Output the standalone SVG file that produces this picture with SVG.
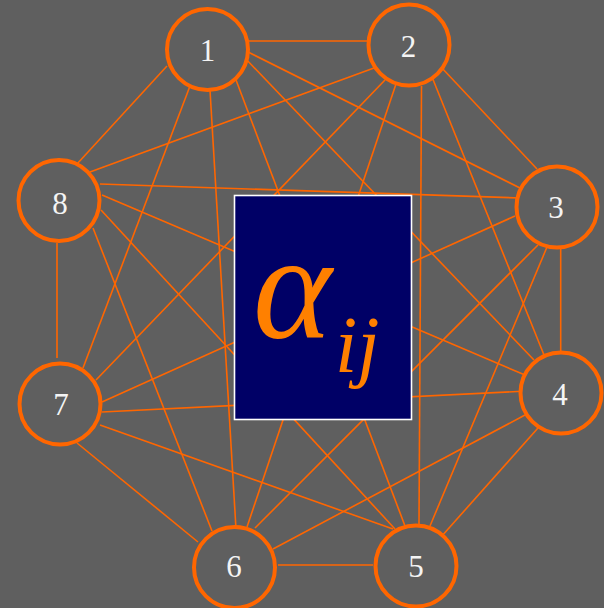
<svg xmlns="http://www.w3.org/2000/svg" width="604" height="608" viewBox="0 0 604 608">
<style>
.edge{stroke:#ff6600;stroke-width:1.6;fill:none}
.node circle{fill:#5f5f5f;stroke:#ff6600;stroke-width:4}
.node text{font-family:"Liberation Serif","Times New Roman",serif;font-size:31px;fill:#f4f4f4;text-anchor:middle}
.alpha{font-family:"Liberation Serif","Times New Roman",serif;font-style:italic;fill:#ff8000}
</style>
<rect x="0" y="0" width="604" height="608" fill="#5f5f5f"/>
<g id="connectors">
<line class="edge" x1="245" y1="41" x2="368" y2="41"/>
<line class="edge" x1="248" y1="52" x2="522" y2="189"/>
<line class="edge" x1="244" y1="57" x2="534" y2="360"/>
<line class="edge" x1="236" y1="80" x2="405" y2="526"/>
<line class="edge" x1="210" y1="90" x2="236" y2="529"/>
<line class="edge" x1="190" y1="86" x2="83" y2="368"/>
<line class="edge" x1="167" y1="66" x2="77" y2="164"/>
<line class="edge" x1="441" y1="67" x2="537" y2="169"/>
<line class="edge" x1="432" y1="77" x2="544" y2="355"/>
<line class="edge" x1="421.5" y1="86" x2="419" y2="524"/>
<line class="edge" x1="398" y1="78" x2="247" y2="527"/>
<line class="edge" x1="385" y1="80" x2="96" y2="380"/>
<line class="edge" x1="374" y1="68" x2="90" y2="172"/>
<line class="edge" x1="560.7" y1="248" x2="560.7" y2="352"/>
<line class="edge" x1="547" y1="247" x2="430" y2="526"/>
<line class="edge" x1="538" y1="245" x2="255" y2="528"/>
<line class="edge" x1="515" y1="216" x2="102" y2="402"/>
<line class="edge" x1="520" y1="198" x2="100" y2="184"/>
<line class="edge" x1="538" y1="428" x2="441" y2="537"/>
<line class="edge" x1="525" y1="415" x2="273" y2="549"/>
<line class="edge" x1="527" y1="391" x2="102" y2="412"/>
<line class="edge" x1="525" y1="375" x2="102" y2="195"/>
<line class="edge" x1="278" y1="565" x2="373" y2="565"/>
<line class="edge" x1="393" y1="529" x2="100" y2="425"/>
<line class="edge" x1="395" y1="529" x2="101" y2="210"/>
<line class="edge" x1="198" y1="542" x2="77" y2="443"/>
<line class="edge" x1="212" y1="531" x2="93" y2="228"/>
<line class="edge" x1="57" y1="243" x2="57" y2="358"/>
</g>
<g id="center">
<rect x="234.5" y="195.5" width="177" height="224" fill="#000066" stroke="#ffffff" stroke-width="1.6"/>
<text class="alpha" x="253" y="338" font-size="150">α</text>
<text class="alpha" x="335" y="372" font-size="80">ij</text>
</g>
<g id="node1" class="node"><circle cx="207.5" cy="49.5" r="40.5"/><text x="207.5" y="61">1</text></g>
<g id="node2" class="node"><circle cx="409" cy="45" r="40.5"/><text x="408.5" y="57">2</text></g>
<g id="node3" class="node"><circle cx="557" cy="207" r="40.5"/><text x="556" y="218">3</text></g>
<g id="node4" class="node"><circle cx="561" cy="393" r="40.5"/><text x="560" y="405">4</text></g>
<g id="node5" class="node"><circle cx="416" cy="566" r="40.5"/><text x="416" y="577">5</text></g>
<g id="node6" class="node"><circle cx="234.5" cy="567.5" r="40.5"/><text x="234" y="577">6</text></g>
<g id="node7" class="node"><circle cx="60" cy="404" r="40.5"/><text x="61" y="415">7</text></g>
<g id="node8" class="node"><circle cx="59" cy="200.5" r="40.5"/><text x="60" y="214">8</text></g>
</svg>
